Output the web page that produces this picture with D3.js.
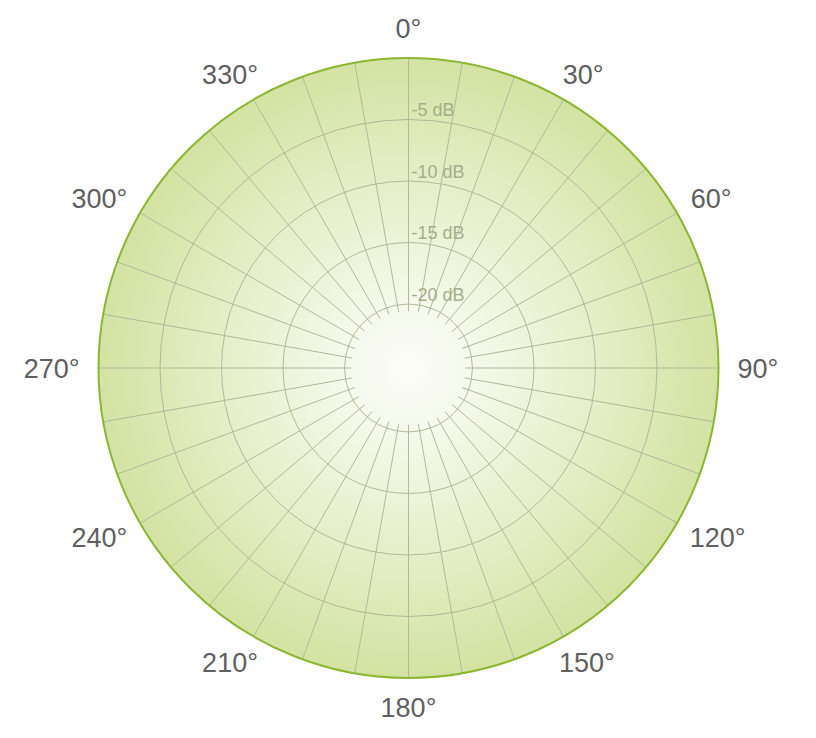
<!DOCTYPE html>
<html>
<head>
<meta charset="utf-8">
<script src="https://cdn.jsdelivr.net/npm/d3@7"></script>
<style>
  html, body { margin: 0; padding: 0; background: #ffffff; }
  svg { display: block; }
</style>
</head>
<body>
<svg id="chart" width="816" height="738"></svg>
<script>
// ---- data ----
const angleTicks = [0, 30, 60, 90, 120, 150, 180, 210, 240, 270, 300, 330];
const angleTickLabels = ["0°", "30°", "60°", "90°", "120°", "150°", "180°", "210°", "240°", "270°", "300°", "330°"];
const spokeAngles = [0, 10, 20, 30, 40, 50, 60, 70, 80, 90, 100, 110, 120, 130, 140, 150, 160, 170,
                     180, 190, 200, 210, 220, 230, 240, 250, 260, 270, 280, 290, 300, 310, 320, 330, 340, 350];
const dbTicks = [-20, -15, -10, -5];
const dbTickLabels = ["-20 dB", "-15 dB", "-10 dB", "-5 dB"];
const dbDomain = [-25.2, 0];

// ---- layout ----
const W = 816, H = 738;
const cx = 408.5, cy = 368;
const outerR = 310;
const spokeInnerR = 57;
const labelR = 330;
const labelFont = 27;

const svg = d3.select("#chart");

const r = d3.scaleLinear().domain(dbDomain).range([0, outerR]);
const a = d3.scaleLinear().domain([0, 360]).range([0, 2 * Math.PI]);

const defs = svg.append("defs");
const grad = defs.append("radialGradient")
  .attr("id", "bg").attr("gradientUnits", "userSpaceOnUse")
  .attr("cx", 0).attr("cy", 0).attr("r", outerR);
grad.append("stop").attr("offset", "0%").attr("stop-color", "#fcfdf8");
grad.append("stop").attr("offset", "20%").attr("stop-color", "#f6f9ec");
grad.append("stop").attr("offset", "60%").attr("stop-color", "#e5efc8");
grad.append("stop").attr("offset", "100%").attr("stop-color", "#d2e3a2");

const g = svg.append("g").attr("transform", `translate(${cx},${cy})`);

// background
g.append("circle").attr("r", r(0)).attr("fill", "url(#bg)");

// rings
g.selectAll("circle.ring").data(dbTicks).enter().append("circle")
  .attr("class", "ring")
  .attr("r", d => r(d))
  .attr("fill", "none")
  .attr("stroke", "#b2b99a")
  .attr("stroke-width", 1);

// spokes
g.selectAll("line.spoke").data(spokeAngles).enter().append("line")
  .attr("class", "spoke")
  .attr("x1", d => spokeInnerR * Math.sin(a(d)))
  .attr("y1", d => -spokeInnerR * Math.cos(a(d)))
  .attr("x2", d => r(0) * Math.sin(a(d)))
  .attr("y2", d => -r(0) * Math.cos(a(d)))
  .attr("stroke", "#b2b99a")
  .attr("stroke-width", 1);

// outer border
g.append("circle").attr("r", r(0))
  .attr("fill", "none")
  .attr("stroke", "#8cb634")
  .attr("stroke-width", 2);

// dB labels
g.selectAll("text.db").data(dbTicks).enter().append("text")
  .attr("class", "db")
  .attr("x", 3)
  .attr("y", d => -r(d) - 3.5)
  .attr("font-family", "'Liberation Sans', Arial, sans-serif")
  .attr("font-size", 18)
  .attr("fill", "#a5ae8a")
  .text((d, i) => dbTickLabels[i]);

// angle labels
const capH = labelFont * 0.716;
const lab = g.selectAll("text.ang").data(angleTicks).enter().append("text")
  .attr("class", "ang")
  .attr("text-anchor", "middle")
  .attr("font-family", "'Liberation Sans', Arial, sans-serif")
  .attr("font-size", labelFont)
  .attr("fill", "#606060")
  .text((d, i) => angleTickLabels[i]);

lab.each(function(d) {
  const w = this.getBBox().width - 2;
  const s = Math.sin(a(d)), c = Math.cos(a(d));
  const x = labelR * s + (w / 2) * s;
  const y = -labelR * c - (capH / 2) * c;
  d3.select(this)
    .attr("x", x)
    .attr("y", y + capH / 2);
});
</script>
</body>
</html>
